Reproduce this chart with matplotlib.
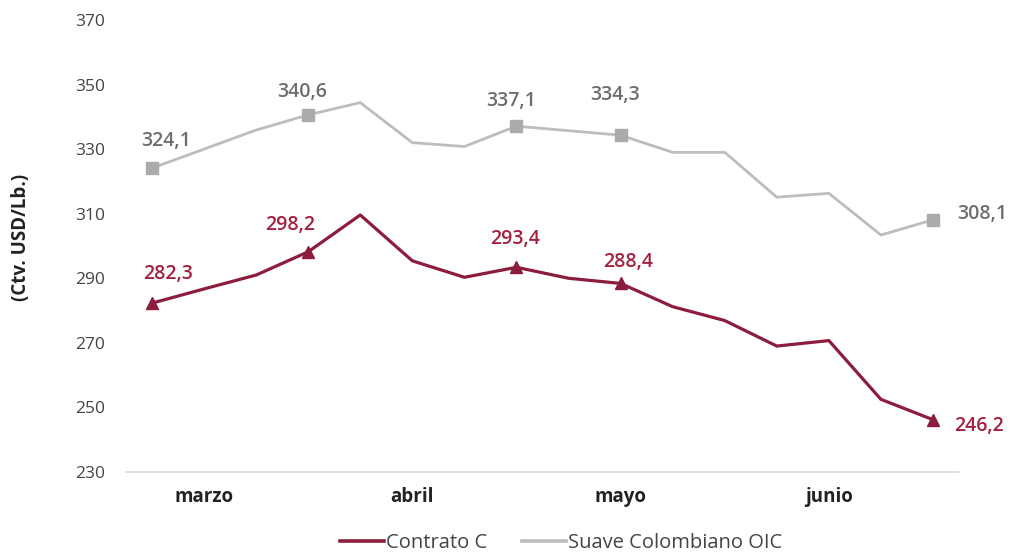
import matplotlib
matplotlib.use('Agg')
import matplotlib.pyplot as plt
from matplotlib.lines import Line2D

# precios semanales, marzo-junio
meses = ['marzo', 'abril', 'mayo', 'junio']
mes_idx = [1, 5, 9, 13]

contrato_c = [282.3, 286.7, 291.0, 298.2, 309.6, 295.4, 290.3, 293.4,
              290.0, 288.4, 281.2, 276.9, 269.0, 270.7, 252.5, 246.2]
suave_oic = [324.1, 330.0, 335.9, 340.6, 344.4, 332.0, 330.8, 337.1,
             335.7, 334.3, 329.0, 329.0, 315.1, 316.3, 303.4, 308.1]

etiquetas = [0, 3, 7, 9, 15]
# desplazamientos de las etiquetas (px)
off_c = [(16, 29), (-18, 27), (-1, 28), (8, 21), (46, -6)]
off_oic = [(14, 27), (-6, 23), (-5, 25), (-6, 40), (49, 6)]

rojo = '#8C1D3C'
rojo_txt = '#A3213F'
gris = '#BDBDBD'
gris_mk = '#ABABAB'
gris_txt = '#6E6E6E'

plt.rcParams['font.family'] = ['Open Sans', 'DejaVu Sans']

fig = plt.figure(figsize=(10.11, 5.54), dpi=100)
ax = fig.add_axes([0.1246, 0.148, 0.824, 0.816])

x = list(range(len(contrato_c)))
ax.plot(x, contrato_c, color=rojo, lw=2.3, marker='^', ms=9,
        markevery=etiquetas)
ax.plot(x, suave_oic, color=gris, lw=2.0, marker='s', ms=8.5, mfc=gris_mk, mec=gris_mk,
        markevery=etiquetas)

for i, (dx, dy) in zip(etiquetas, off_c):
    ax.annotate(f'{contrato_c[i]:.1f}'.replace('.', ','), (i, contrato_c[i]),
                xytext=(dx, dy), textcoords='offset pixels', ha='center', va='center',
                color=rojo_txt, fontsize=14, fontweight='semibold')
for i, (dx, dy) in zip(etiquetas, off_oic):
    ax.annotate(f'{suave_oic[i]:.1f}'.replace('.', ','), (i, suave_oic[i]),
                xytext=(dx, dy), textcoords='offset pixels', ha='center', va='center',
                color=gris_txt, fontsize=14, fontweight='semibold')

ax.set_xlim(-0.5, len(x) - 0.5)
ax.set_ylim(230, 370)
ax.set_yticks(range(230, 371, 20))
ax.set_xticks(mes_idx)
ax.set_xticklabels(meses, fontweight='bold', fontsize=13.5, color='#222222')
ax.tick_params(axis='both', length=0)
ax.tick_params(axis='y', labelsize=12.5, labelcolor='#444444', pad=15)
ax.tick_params(axis='x', pad=11)

for s in ['top', 'right', 'left']:
    ax.spines[s].set_visible(False)
ax.spines['bottom'].set_color('#D9D9D9')
ax.spines['bottom'].set_linewidth(1.2)

fig.text(0.021, 0.572, '(Ctv. USD/Lb.)', rotation=90, ha='center', va='center',
         fontsize=13.5, fontweight='bold', color='#222222')

handles = [Line2D([], [], color=rojo, lw=2.6), Line2D([], [], color=gris, lw=2.6)]
fig.legend(handles, ['Contrato C', 'Suave Colombiano OIC'], loc='center',
           bbox_to_anchor=(0.555, 0.02), ncol=2, frameon=False,
           fontsize=14.5, handlelength=2.2, handletextpad=0.1, columnspacing=1.7,
           labelcolor='#444444')

fig.savefig('out.png', dpi=100)
